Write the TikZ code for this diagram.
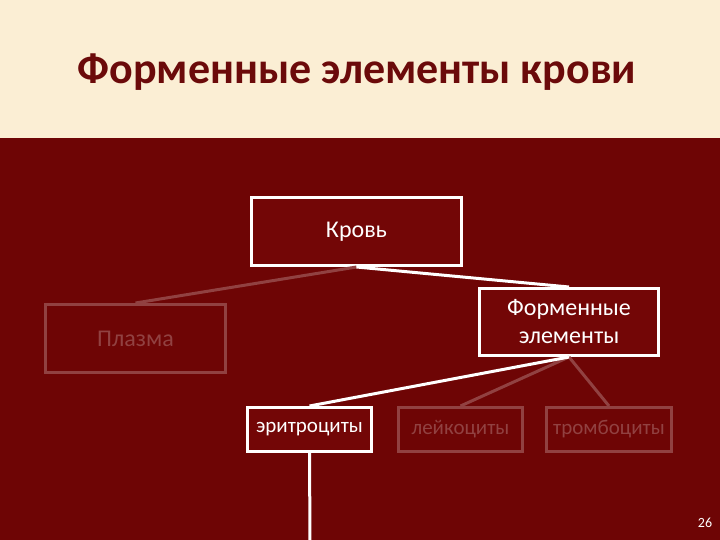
\documentclass[tikz,border=0pt]{standalone}
\usepackage{fontspec}
\setmainfont{Carlito}
\definecolor{bg}{HTML}{6E0505}
\definecolor{boxfill}{HTML}{730606}
\definecolor{beige}{HTML}{FBEED4}
\definecolor{titlecol}{HTML}{6B0A0A}
\colorlet{fade}{white!24!bg}
\tikzset{
  boxon/.style={draw=white, line width=3pt, fill=boxfill, text=white, inner sep=0pt, align=center},
  boxoff/.style={draw=fade, line width=3pt, fill=bg, text=fade, inner sep=0pt, align=center},
  linkon/.style={draw=white, line width=3pt},
  linkoff/.style={draw=fade, line width=3pt},
}
\begin{document}
\begin{tikzpicture}[x=1pt,y=-1pt]
\useasboundingbox (0,0) rectangle (720,540);
\fill[bg] (0,0) rectangle (720,540);
\fill[beige] (0,0) rectangle (720,138);
\node[text=titlecol, font=\fontsize{44}{50}\selectfont\bfseries] (title) at (357,72) {Форменные элементы крови};
\node[boxon, minimum width=210pt, minimum height=68pt, font=\fontsize{24}{28}\selectfont] (krov) at (356.5,231.5) {Кровь};
\node[boxoff, minimum width=180pt, minimum height=68pt, font=\fontsize{24}{28}\selectfont] (plazma) at (135.5,338.5) {Плазма};
\node[boxon, minimum width=179pt, minimum height=67pt, font=\fontsize{24}{28}\selectfont] (form) at (569,322) {Форменные\\элементы};
\node[boxon, minimum width=124pt, minimum height=44pt, font=\fontsize{21}{24}\selectfont] (eri) at (309.5,429.5) {эритроциты};
\node[boxoff, minimum width=124pt, minimum height=44pt, font=\fontsize{21}{24}\selectfont] (lei) at (460.5,429.5) {лейкоциты};
\node[boxoff, minimum width=125pt, minimum height=44pt, font=\fontsize{21}{24}\selectfont] (trom) at (609,429.5) {тромбоциты};
\node[text=white, font=\fontsize{14}{16}\selectfont] (num) at (705,523) {26};
\coordinate (bottom) at (310,541);
\draw[linkoff] (krov.south) -- (plazma.north);
\draw[linkon] (krov.south) -- (form.north);
\draw[linkoff] (form.south) -- (lei.north);
\draw[linkoff] (form.south) -- (trom.north);
\draw[linkon] (form.south) -- (eri.north);
\draw[linkon] (eri.south) -- (bottom);
\end{tikzpicture}
\end{document}
